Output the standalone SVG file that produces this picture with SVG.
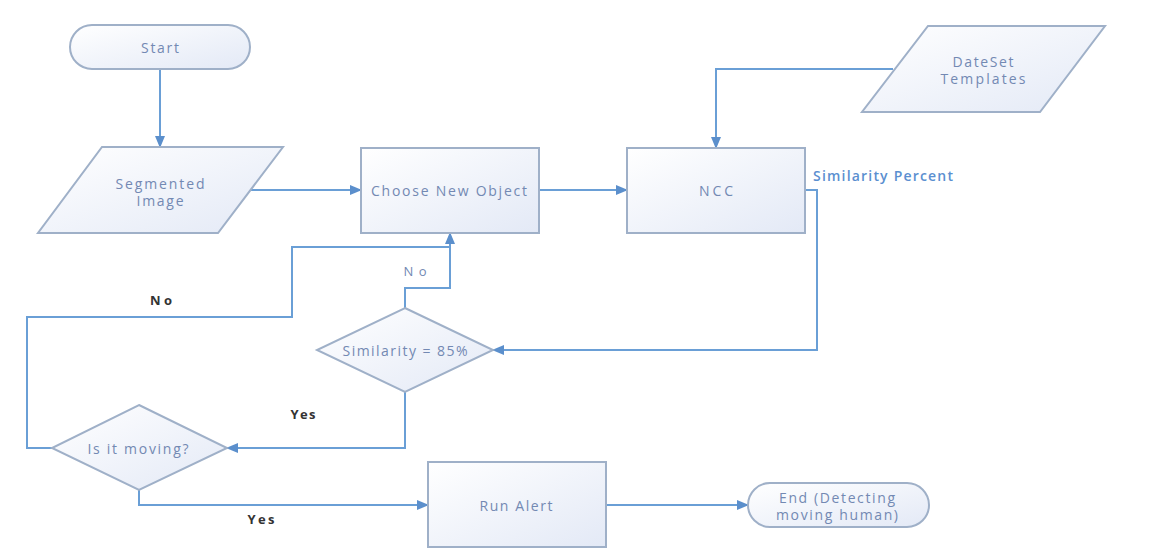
<svg xmlns="http://www.w3.org/2000/svg" width="1169" height="550" viewBox="0 0 1169 550">
<defs>
<linearGradient id="fillg" x1="0" y1="0" x2="1" y2="1">
<stop offset="0" stop-color="#ffffff"/>
<stop offset="1" stop-color="#e3e9f6"/>
</linearGradient>
<marker id="arr" markerUnits="userSpaceOnUse" markerWidth="12" markerHeight="10" refX="11" refY="5" orient="auto">
<path d="M0,0 L12,5 L0,10 Z" fill="#5b8fcc"/>
</marker>
<style>
.shape{fill:url(#fillg);stroke:#9fb0c8;stroke-width:2}
.lbl{font-family:"Open Sans","Liberation Sans",sans-serif;font-size:14px;fill:#7389b3;text-anchor:middle;dominant-baseline:central}
.blk{font-family:"Open Sans","Liberation Sans",sans-serif;font-size:13px;font-weight:bold;fill:#333333;text-anchor:middle;dominant-baseline:central}
.con{fill:none;stroke:#6a9fd6;stroke-width:2}
.arrow{marker-end:url(#arr)}
</style>
</defs>
<rect width="1169" height="550" fill="#ffffff"/>
<g id="connectors">
<path class="con arrow" d="M160,69 V147"/>
<path class="con arrow" d="M250,190 H361"/>
<path class="con arrow" d="M539,190 H627"/>
<path class="con arrow" d="M893,69 H716 V148"/>
<path class="con arrow" d="M805,190 H817 V350 H493"/>
<path class="con arrow" d="M405,308 V288 H450 V233"/>
<path class="con" d="M52,448 H27 V317 H292 V247 H450"/>
<path class="con arrow" d="M405,392 V448 H227"/>
<path class="con arrow" d="M139,490 V505 H428"/>
<path class="con arrow" d="M606,505 H748"/>
<text class="lbl" x="415" y="271" textLength="23" lengthAdjust="spacing" style="font-size:13px">No</text>
<text class="blk" x="161" y="300" textLength="22" lengthAdjust="spacing">No</text>
<text class="blk" x="303" y="414" textLength="25" lengthAdjust="spacing">Yes</text>
<text class="blk" x="261" y="519" textLength="27" lengthAdjust="spacing">Yes</text>
<text class="lbl" x="883" y="175" textLength="140" lengthAdjust="spacing" style="fill:#5b8fd0;font-weight:600">Similarity Percent</text>
</g>
<g id="start">
<rect class="shape" x="70" y="25" width="180" height="44" rx="22" ry="22"/>
<text class="lbl" x="160" y="47" textLength="38" lengthAdjust="spacing">Start</text>
</g>
<g id="segmented">
<polygon class="shape" points="102,147 283,147 218,233 38,233"/>
<text class="lbl" x="160" y="183" textLength="89" lengthAdjust="spacing">Segmented</text>
<text class="lbl" x="160" y="200" textLength="47" lengthAdjust="spacing">Image</text>
</g>
<g id="choose">
<rect class="shape" x="361" y="148" width="178" height="85"/>
<text class="lbl" x="449" y="190" textLength="156" lengthAdjust="spacing">Choose New Object</text>
</g>
<g id="ncc">
<rect class="shape" x="627" y="148" width="178" height="85"/>
<text class="lbl" x="716" y="190" textLength="34" lengthAdjust="spacing">NCC</text>
</g>
<g id="dataset">
<polygon class="shape" points="928,26 1105,26 1040,112 862,112"/>
<text class="lbl" x="983" y="61" textLength="61" lengthAdjust="spacing">DateSet</text>
<text class="lbl" x="983" y="78" textLength="85" lengthAdjust="spacing">Templates</text>
</g>
<g id="similarity">
<polygon class="shape" points="405,308 493,350 405,392 317,350"/>
<text class="lbl" x="405" y="350" textLength="125" lengthAdjust="spacing">Similarity = 85%</text>
</g>
<g id="moving">
<polygon class="shape" points="139,405 227,448 139,490 52,448"/>
<text class="lbl" x="138" y="448" textLength="101" lengthAdjust="spacing">Is it moving?</text>
</g>
<g id="runalert">
<rect class="shape" x="428" y="462" width="178" height="85"/>
<text class="lbl" x="516" y="505" textLength="73" lengthAdjust="spacing">Run Alert</text>
</g>
<g id="end">
<rect class="shape" x="748" y="483" width="181" height="44" rx="22" ry="22"/>
<text class="lbl" x="837" y="497" textLength="116" lengthAdjust="spacing">End (Detecting</text>
<text class="lbl" x="837" y="514" textLength="122" lengthAdjust="spacing">moving human)</text>
</g>
</svg>
